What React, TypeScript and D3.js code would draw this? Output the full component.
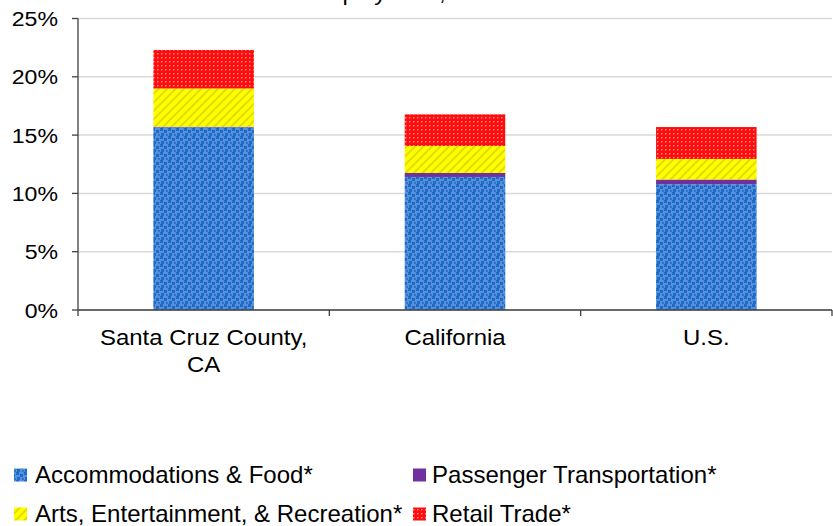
import React from "react";
import * as d3 from "d3";

const categories = ["Santa Cruz County, CA", "California", "U.S."];
const categoryLines = [["Santa Cruz County,", "CA"], ["California"], ["U.S."]];
const seriesNames = [
  "Accommodations & Food*",
  "Passenger Transportation*",
  "Arts, Entertainment, & Recreation*",
  "Retail Trade*",
];
const accommodations = [15.67, 11.41, 10.79];
const passenger = [0.05, 0.34, 0.4];
const arts = [3.28, 2.32, 1.76];
const retail = [3.3, 2.71, 2.74];
const yTicks = [0, 5, 10, 15, 20, 25];

const W = 833;
const H = 526;

const keys = ["acc", "pas", "art", "ret"];
const fills = ["url(#pBlue)", "#7030a0", "url(#pYellow)", "url(#pRed)"];

function T({ x, y, children, anchor = "start", size = 21, sx = 1.1 }: any) {
  return (
    <text
      transform={`translate(${x},${y}) scale(${sx},1)`}
      textAnchor={anchor}
      fontFamily="'Liberation Sans', Arial, sans-serif"
      fontSize={size}
      fill="#000"
    >
      {children}
    </text>
  );
}

export default function App() {
  const rows = categories.map((c, i) => ({
    cat: c,
    acc: accommodations[i],
    pas: passenger[i],
    art: arts[i],
    ret: retail[i],
  }));
  const stacked = d3.stack<any>().keys(keys)(rows);

  const x = d3
    .scaleBand<string>()
    .domain(categories)
    .range([78, 832])
    .paddingInner(0.6)
    .paddingOuter(0.3);
  const y = d3.scaleLinear().domain([0, 25]).range([310, 18.5]);
  const step = x.step();
  const boundaries = d3.range(categories.length + 1).map((i) => 78 + i * step);

  const legendPos = [
    { sx: 14, tx: 35, y: 475 },
    { sx: 413, tx: 432, y: 475 },
    { sx: 14, tx: 35, y: 514 },
    { sx: 413, tx: 432, y: 514 },
  ];

  return (
    <svg
      width={W}
      height={H}
      style={{ position: "absolute", left: 0, top: 0, background: "#fff" }}
    >
      <defs>
        <pattern id="pBlue" width="8" height="8" patternUnits="userSpaceOnUse">
          <rect width="8" height="8" fill="#5a8fd8" />
          <rect x="0" y="0" width="3" height="3" fill="#1a6ccc" />
          <rect x="4" y="2" width="3" height="3" fill="#1a6ccc" />
          <rect x="1" y="5" width="3" height="3" fill="#1a6ccc" />
          <rect x="6" y="6" width="2" height="2" fill="#2a76d0" />
        </pattern>
        <pattern
          id="pYellow"
          width="6"
          height="6"
          patternUnits="userSpaceOnUse"
          patternTransform="rotate(45)"
        >
          <rect width="6" height="6" fill="#ffff00" />
          <rect x="0" y="0" width="2" height="6" fill="#e2dc00" />
        </pattern>
        <pattern id="pRed" width="4" height="4" patternUnits="userSpaceOnUse">
          <rect width="4" height="4" fill="#ff0d0d" />
          <rect x="1" y="1" width="1.5" height="1.5" fill="#ff8c8c" />
        </pattern>
      </defs>

      {/* clipped title */}
      <T x={307} y={-0.5} size={22} sx={1.08}>Employment, 2012</T>

      {/* gridlines */}
      {yTicks.map((t) => (
        <line
          key={"g" + t}
          x1={78}
          x2={832}
          y1={y(t)}
          y2={y(t)}
          stroke="#d9d9d9"
          strokeWidth={1.5}
        />
      ))}

      {/* bars */}
      {stacked.map((s, si) =>
        s.map((d, i) => (
          <rect
            key={si + "-" + i}
            x={x(categories[i])}
            width={x.bandwidth()}
            y={y(d[1])}
            height={Math.max(0, y(d[0]) - y(d[1]))}
            fill={fills[si]}
          />
        ))
      )}

      {/* y axis */}
      <line x1={78} x2={78} y1={y(25)} y2={y(0)} stroke="#404040" strokeWidth={1.3} />
      {yTicks.map((t) => (
        <g key={"yt" + t}>
          <line x1={72} x2={78} y1={y(t)} y2={y(t)} stroke="#404040" strokeWidth={1.3} />
          <T x={58} y={y(t) + 7.5} anchor="end" size={21} sx={1.1}>{`${t}%`}</T>
        </g>
      ))}

      {/* x axis */}
      <line x1={78} x2={832} y1={y(0)} y2={y(0)} stroke="#404040" strokeWidth={1.3} />
      {boundaries.map((b, i) => (
        <line key={"xt" + i} x1={b} x2={b} y1={y(0)} y2={y(0) + 6} stroke="#404040" strokeWidth={1.3} />
      ))}
      {categories.map((c, i) => {
        const cx = (x(c) as number) + x.bandwidth() / 2;
        return categoryLines[i].map((ln, j) => (
          <T key={c + j} x={cx} y={345 + j * 27} anchor="middle" size={22} sx={1.09}>
            {ln}
          </T>
        ));
      })}

      {/* legend */}
      {seriesNames.map((n, i) => (
        <g key={"lg" + i}>
          <rect
            x={legendPos[i].sx}
            y={legendPos[i].y - 6.5}
            width={13}
            height={13}
            fill={fills[i]}
          />
          <T x={legendPos[i].tx} y={legendPos[i].y + 8.3} size={23} sx={1.045}>{n}</T>
        </g>
      ))}
    </svg>
  );
}
